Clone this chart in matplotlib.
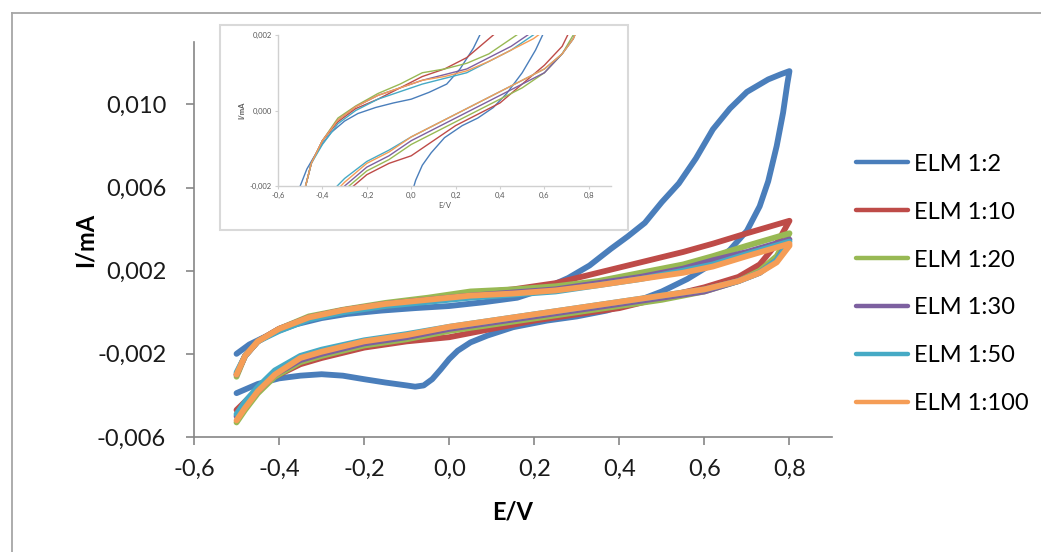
import matplotlib
matplotlib.use("Agg")
import matplotlib.pyplot as plt
from matplotlib.lines import Line2D
from matplotlib.patches import Rectangle
from matplotlib.ticker import FuncFormatter, FixedLocator

plt.rcParams['font.family'] = ['Lato', 'DejaVu Sans']

series_names = ["ELM 1:2", "ELM 1:10", "ELM 1:20", "ELM 1:30", "ELM 1:50", "ELM 1:100"]
series_colors = ["#4A7EBB", "#BE4B48", "#98B954", "#7D60A0", "#46AAC5", "#F59D56"]

# ELM 1:2 (own potential points)
e12_fwd = [-0.50, -0.45, -0.40, -0.35, -0.30, -0.25, -0.20, -0.15, -0.10, -0.08, -0.06, -0.04,
           -0.02, 0.00, 0.02, 0.05, 0.09, 0.15, 0.23, 0.30, 0.37, 0.43, 0.50, 0.56, 0.62, 0.66,
           0.70, 0.73, 0.75, 0.77, 0.785, 0.795, 0.80]
i12_fwd = [-0.00389, -0.00345, -0.00318, -0.00305, -0.00298, -0.00305, -0.00322, -0.00338,
           -0.00352, -0.00358, -0.00352, -0.00322, -0.00275, -0.00225, -0.00185, -0.00145,
           -0.00112, -0.00072, -0.00040, -0.00020, 0.00008, 0.00045, 0.00100, 0.00160,
           0.00235, 0.00300, 0.00392, 0.00510, 0.00630, 0.00800, 0.00960, 0.01100, 0.01160]
e12_rev = [0.80, 0.78, 0.75, 0.70, 0.66, 0.62, 0.58, 0.54, 0.50, 0.46, 0.42, 0.38, 0.33, 0.28,
           0.22, 0.16, 0.08, 0.00, -0.08, -0.16, -0.24, -0.30, -0.36, -0.40, -0.44, -0.47, -0.50]
i12_rev = [0.01160, 0.01145, 0.01120, 0.01060, 0.00980, 0.00880, 0.00740, 0.00620, 0.00530,
           0.00430, 0.00365, 0.00305, 0.00225, 0.00165, 0.00110, 0.00070, 0.00048, 0.00030,
           0.00020, 0.00008, -0.00008, -0.00028, -0.00058, -0.00088, -0.00125, -0.00155, -0.00200]

# shared potential points for the other samples
e_fwd = [-0.50, -0.48, -0.45, -0.41, -0.35, -0.30, -0.20, -0.10, 0.00, 0.10, 0.20, 0.30, 0.40,
         0.50, 0.60, 0.68, 0.73, 0.77, 0.80]
e_rev = [0.80, 0.75, 0.70, 0.62, 0.55, 0.45, 0.35, 0.25, 0.15, 0.05, -0.05, -0.15, -0.25,
         -0.33, -0.40, -0.45, -0.48, -0.50]

i110_fwd = [-0.0047, -0.0043, -0.0037, -0.0031, -0.0025, -0.0022, -0.0017, -0.0014, -0.0012,
            -0.0008, -0.0004, -0.0001, 0.0002, 0.0007, 0.0012, 0.0017, 0.0023, 0.0033, 0.0044]
i110_rev = [0.0044, 0.0041, 0.0038, 0.0033, 0.0029, 0.0024, 0.0019, 0.0014, 0.0011, 0.0009,
            0.0006, 0.0003, 0.00005, -0.0003, -0.0008, -0.0014, -0.0021, -0.0030]

i120_fwd = [-0.0053, -0.0047, -0.0039, -0.0031, -0.0024, -0.0021, -0.0016, -0.0013, -0.0009,
            -0.0006, -0.0003, 0.0000, 0.0003, 0.0006, 0.0010, 0.0015, 0.0020, 0.0027, 0.0038]
i120_rev = [0.0038, 0.0035, 0.0032, 0.0027, 0.0023, 0.0019, 0.0015, 0.00125, 0.0011, 0.0010,
            0.0007, 0.00045, 0.00012, -0.0002, -0.0008, -0.0014, -0.0021, -0.0031]

i130_fwd = [-0.0050, -0.0045, -0.0038, -0.0030, -0.0023, -0.0020, -0.0015, -0.0012, -0.0008,
            -0.0005, -0.0002, 0.0001, 0.0004, 0.0007, 0.0010, 0.0015, 0.0019, 0.0025, 0.0035]
i130_rev = [0.0035, 0.0032, 0.0029, 0.0025, 0.0021, 0.0017, 0.0014, 0.0011, 0.00095, 0.0008,
            0.0006, 0.0004, 0.0001, -0.00025, -0.0008, -0.0014, -0.0021, -0.0030]

i150_fwd = [-0.0049, -0.0043, -0.0036, -0.0028, -0.0021, -0.0018, -0.00135, -0.00105, -0.0007,
            -0.0004, -0.0001, 0.0002, 0.0005, 0.0008, 0.0011, 0.0015, 0.0019, 0.0025, 0.0034]
i150_rev = [0.0034, 0.0031, 0.0028, 0.0023, 0.0020, 0.0016, 0.0013, 0.0010, 0.00085, 0.0007,
            0.0005, 0.0003, 0.0000, -0.00035, -0.0009, -0.0014, -0.0021, -0.0029]

i1100_fwd = [-0.0052, -0.0046, -0.0038, -0.0030, -0.0022, -0.0019, -0.0014, -0.0011, -0.0007,
             -0.0004, -0.0001, 0.0002, 0.0005, 0.0008, 0.0011, 0.0015, 0.0019, 0.0024, 0.0032]
i1100_rev = [0.0033, 0.0030, 0.0027, 0.0022, 0.0019, 0.0016, 0.0013, 0.00105, 0.0009, 0.0008,
             0.0006, 0.0004, 0.0001, -0.00025, -0.0008, -0.0014, -0.0021, -0.0030]

x_ticks = [-0.6, -0.4, -0.2, 0.0, 0.2, 0.4, 0.6, 0.8]
y_ticks = [-0.006, -0.002, 0.002, 0.006, 0.010]
inset_y_ticks = [-0.002, 0.000, 0.002]

curves = [
    (e12_fwd + e12_rev, i12_fwd + i12_rev),
    (e_fwd + e_rev, i110_fwd + i110_rev),
    (e_fwd + e_rev, i120_fwd + i120_rev),
    (e_fwd + e_rev, i130_fwd + i130_rev),
    (e_fwd + e_rev, i150_fwd + i150_rev),
    (e_fwd + e_rev, i1100_fwd + i1100_rev),
]

W, H = 1041, 552
fig = plt.figure(figsize=(W / 100, H / 100), dpi=100)

def fx(px):
    return px / W

def fy(py):
    return 1 - py / H

# outer chart border (top and left visible)
fig.add_artist(Line2D([fx(12), 1.0], [fy(13), fy(13)], transform=fig.transFigure,
                      color="#a6a6a6", lw=1.3))
fig.add_artist(Line2D([fx(12), fx(12)], [0.0, fy(13)], transform=fig.transFigure,
                      color="#a6a6a6", lw=1.3))

ax = fig.add_axes([fx(194), fy(437), fx(832) - fx(194), fy(42) - fy(437)])
ax.set_zorder(0)
for (e, i), name, col in zip(curves, series_names, series_colors):
    ax.plot(e, i, color=col, lw=4.2, label=name, solid_capstyle='round',
            solid_joinstyle='round')

ax.set_xlim(-0.6, 0.9)
ax.set_ylim(-0.006, 0.013)
ax.xaxis.set_major_locator(FixedLocator(x_ticks))
ax.yaxis.set_major_locator(FixedLocator(y_ticks))

def comma_fmt(nd):
    def f(v, pos):
        s = f"{v:.{nd}f}"
        if s.startswith('-') and float(s) == 0:
            s = s[1:]
        return s.replace('.', ',')
    return FuncFormatter(f)

ax.xaxis.set_major_formatter(comma_fmt(1))
ax.yaxis.set_major_formatter(comma_fmt(3))
for side in ['top', 'right']:
    ax.spines[side].set_visible(False)
for side in ['left', 'bottom']:
    ax.spines[side].set_color('#868686')
    ax.spines[side].set_linewidth(1.2)
ax.tick_params(axis='both', direction='out', length=6, width=1.2, color='#868686',
               labelsize=17, labelcolor='#1a1a1a')
ax.tick_params(axis='x', pad=10)
ax.tick_params(axis='y', pad=14)
ax.set_xlabel('E/V', fontsize=17, fontweight='bold')
ax.set_ylabel('I/mA', fontsize=17, fontweight='bold')
ax.xaxis.set_label_coords(0.5, -0.162)
ax.yaxis.set_label_coords(-0.152, 0.5)

# legend
leg = fig.legend(loc='center left', bbox_to_anchor=(fx(835), fy(284)), frameon=False,
                 fontsize=17, handlelength=2.2, handletextpad=0.25, labelspacing=1.14,
                 borderpad=0.4)
for h in leg.get_lines():
    h.set_linewidth(3.2)

# inset box
box = Rectangle((fx(220), fy(230)), fx(628) - fx(220), fy(25) - fy(230),
                transform=fig.transFigure, facecolor='white', edgecolor='#d9d9d9',
                lw=1.5, zorder=1)
fig.add_artist(box)

axi = fig.add_axes([fx(278), fy(186), fx(611) - fx(278), fy(35) - fy(186)])
axi.set_zorder(2)
axi.patch.set_alpha(0)
for (e, i), col in zip(curves, series_colors):
    axi.plot(e, i, color=col, lw=1.0)
axi.set_xlim(-0.6, 0.9)
axi.set_ylim(-0.002, 0.002)
axi.xaxis.set_major_locator(FixedLocator(x_ticks))
axi.yaxis.set_major_locator(FixedLocator(inset_y_ticks))
axi.xaxis.set_major_formatter(comma_fmt(1))
axi.yaxis.set_major_formatter(comma_fmt(3))
for side in ['top', 'right']:
    axi.spines[side].set_visible(False)
for side in ['left', 'bottom']:
    axi.spines[side].set_color('#d0d0d0')
    axi.spines[side].set_linewidth(1.0)
axi.tick_params(axis='both', direction='out', length=2.5, width=0.8, color='#d0d0d0',
                labelsize=5.5, labelcolor='#595959', pad=2)
axi.set_xlabel('E/V', fontsize=5.5, color='#595959', labelpad=2)
axi.set_ylabel('I/mA', fontsize=5.5, color='#595959', fontweight='bold', labelpad=3)

fig.savefig('out.png', dpi=100, facecolor='white')
